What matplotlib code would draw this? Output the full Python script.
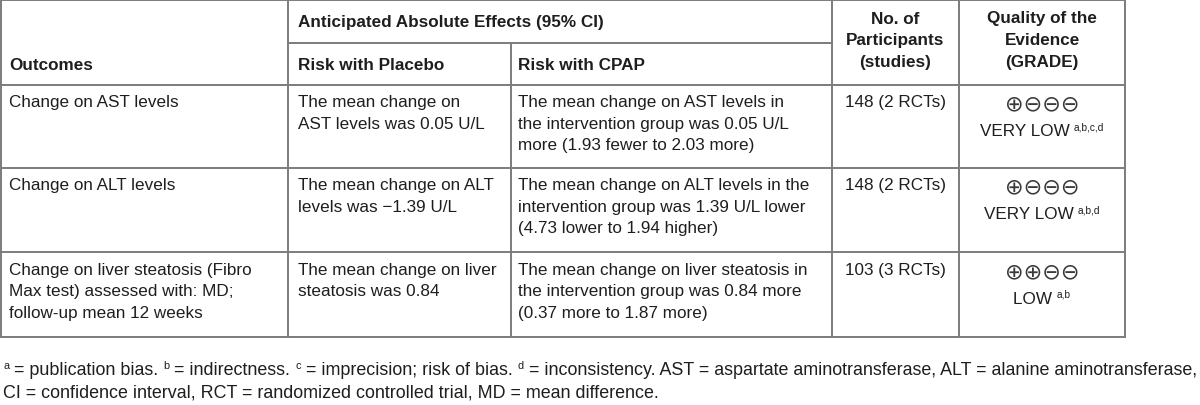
import matplotlib
matplotlib.use("Agg")
import matplotlib.pyplot as plt
from matplotlib.font_manager import FontProperties

# table content
outcomes = ["Change on AST levels",
            "Change on ALT levels",
            "Change on liver steatosis (Fibro\nMax test) assessed with: MD;\nfollow-up mean 12 weeks"]
risk_placebo = ["The mean change on\nAST levels was 0.05 U/L",
                "The mean change on ALT\nlevels was \u22121.39 U/L",
                "The mean change on liver\nsteatosis was 0.84"]
risk_cpap = ["The mean change on AST levels in\nthe intervention group was 0.05 U/L\nmore (1.93 fewer to 2.03 more)",
             "The mean change on ALT levels in the\nintervention group was 1.39 U/L lower\n(4.73 lower to 1.94 higher)",
             "The mean change on liver steatosis in\nthe intervention group was 0.84 more\n(0.37 more to 1.87 more)"]
participants = ["148 (2 RCTs)", "148 (2 RCTs)", "103 (3 RCTs)"]
grade_symbols = ["\u2295\u2296\u2296\u2296", "\u2295\u2296\u2296\u2296", "\u2295\u2295\u2296\u2296"]
grade_labels = ["VERY LOW", "VERY LOW", "LOW"]
grade_notes = ["a,b,c,d", "a,b,d", "a,b"]

header_top = "Anticipated Absolute Effects (95% CI)"
header_cols = ["Outcomes", "Risk with Placebo", "Risk with CPAP"]
header_n = "No. of\nParticipants\n(studies)"
header_q = "Quality of the\nEvidence\n(GRADE)"

footnote1 = [("a", True), (" = publication bias. ", False), ("b", True), (" = indirectness. ", False),
             ("c", True), (" = imprecision; risk of bias. ", False), ("d", True),
             (" = inconsistency. AST = aspartate aminotransferase, ALT = alanine aminotransferase,", False)]
footnote2 = "CI = confidence interval, RCT = randomized controlled trial, MD = mean difference."

# layout (pixels)
col_x = [1, 288, 511, 832, 959, 1125]
row_y = [1, 85.5, 168.5, 253, 338]
sub_y = 43.5
line_h = 21.5
FONT = "Liberation Sans"
TXT = "#1e1e1e"
LINE = "#7c7c7c"
fs = 12.3

fig = plt.figure(figsize=(12, 4.06), dpi=100)
ax = fig.add_axes([0, 0, 1, 1])
ax.set_xlim(0, 1200)
ax.set_ylim(406, 0)
ax.axis("off")
renderer = fig.canvas.get_renderer()


def hline(y, x0, x1):
    ax.plot([x0, x1], [y, y], color=LINE, lw=1.4, solid_capstyle="projecting")


def vline(x, y0, y1):
    ax.plot([x, x], [y0, y1], color=LINE, lw=1.4, solid_capstyle="projecting")


def text_width(s, size, family=FONT):
    prop = FontProperties(family=family, size=size)
    w1 = renderer.get_text_width_height_descent("X" + s + "X", prop, ismath=False)[0]
    w0 = renderer.get_text_width_height_descent("XX", prop, ismath=False)[0]
    return w1 - w0


def lines(x, y, s, ha="left", weight="normal", size=fs):
    for i, ln in enumerate(s.split("\n")):
        ax.text(x, y + i * line_h, ln, ha=ha, va="center", fontsize=size,
                family=FONT, weight=weight, color=TXT)


def runs(x, y, parts, size, sup_size, ha="left"):
    # parts: list of (text, is_superscript), drawn on one baseline
    widths = [text_width(t, sup_size if s else size) for t, s in parts]
    total = sum(widths)
    if ha == "center":
        x = x - total / 2
    for (t, s), w in zip(parts, widths):
        if s:
            ax.text(x, y - 6, t, ha="left", va="baseline", fontsize=sup_size, family=FONT, color=TXT)
        else:
            ax.text(x, y, t, ha="left", va="baseline", fontsize=size, family=FONT, color=TXT)
        x += w
    return total


# grid
hline(row_y[0], col_x[0], col_x[-1])
hline(sub_y, col_x[1], col_x[3])
for y in row_y[1:]:
    hline(y, col_x[0], col_x[-1])
for x in [col_x[0], col_x[1], col_x[3], col_x[4], col_x[5]]:
    vline(x, row_y[0], row_y[-1])
vline(col_x[2], sub_y, row_y[-1])

# header
lines(298, 22, header_top, weight="bold")
lines(9, 65, header_cols[0], weight="bold")
lines(298, 65, header_cols[1], weight="bold")
lines(518, 65, header_cols[2], weight="bold")
lines((col_x[3] + col_x[4]) / 2, 19, header_n, ha="center", weight="bold")
lines((col_x[4] + col_x[5]) / 2, 19, header_q, ha="center", weight="bold")

# body
for i in range(3):
    top = row_y[i + 1]
    y0 = top + 17.5
    lines(9, y0, outcomes[i])
    lines(298, y0, risk_placebo[i])
    lines(518, y0, risk_cpap[i])
    lines((col_x[3] + col_x[4]) / 2, y0, participants[i], ha="center")
    qx = (col_x[4] + col_x[5]) / 2
    ax.text(qx, top + 19, grade_symbols[i], ha="center", va="center", fontsize=16,
            family="DejaVu Sans", color="#3a3a3a")
    runs(qx, top + 51, [(grade_labels[i] + " ", False), (grade_notes[i], True)], fs, 7.3, ha="center")

# footnotes, fitted to the width of the first line
foot_fs = 11.5
w = sum(text_width(t, foot_fs * (0.62 if s else 1)) for t, s in footnote1)
foot_fs = foot_fs * (1196 - 3) / w
runs(3, 375, footnote1, foot_fs, foot_fs * 0.62)
ax.text(3, 397.5, footnote2, ha="left", va="baseline", fontsize=foot_fs, family=FONT, color=TXT)

fig.savefig("out.png", dpi=100, facecolor="white")
